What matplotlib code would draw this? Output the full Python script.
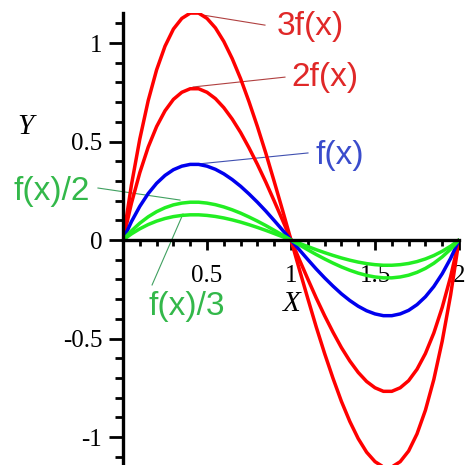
import numpy as np
import matplotlib
matplotlib.use("Agg")
import matplotlib.pyplot as plt
from matplotlib.ticker import MultipleLocator, FixedLocator, FixedFormatter

# f(x), step 0.05 from 0 to 2
x_vals = [0.00, 0.05, 0.10, 0.15, 0.20, 0.25, 0.30, 0.35, 0.40, 0.45,
          0.50, 0.55, 0.60, 0.65, 0.70, 0.75, 0.80, 0.85, 0.90, 0.95,
          1.00, 1.05, 1.10, 1.15, 1.20, 1.25, 1.30, 1.35, 1.40, 1.45,
          1.50, 1.55, 1.60, 1.65, 1.70, 1.75, 1.80, 1.85, 1.90, 1.95, 2.00]
f_vals = [0.000, 0.093, 0.171, 0.236, 0.288, 0.328, 0.357, 0.375, 0.384, 0.384,
          0.375, 0.359, 0.336, 0.307, 0.273, 0.234, 0.192, 0.147, 0.099, 0.050,
          0.000, -0.050, -0.099, -0.147, -0.192, -0.234, -0.273, -0.307, -0.336, -0.359,
          -0.375, -0.384, -0.384, -0.375, -0.357, -0.328, -0.288, -0.236, -0.171, -0.093, 0.000]

# scale factors of the five curves and their labels
factors = [3, 2, 1, 1/2, 1/3]
names = ["3f(x)", "2f(x)", "f(x)", "f(x)/2", "f(x)/3"]

xtick_vals = [0.5, 1, 1.5, 2]
xtick_labels = ["0.5", "1", "1.5", "2"]
ytick_vals = [-1, -0.5, 0, 0.5, 1]
ytick_labels = ["-1", "-0.5", "0", "0.5", "1"]

curve_colors = ["#ff0000", "#ff0000", "#0000ee", "#22ee22", "#22ee22"]
text_colors = ["#e02828", "#e02828", "#3a4ccc", "#33b84a", "#33b84a"]
lead_colors = ["#b04040", "#b04040", "#4050b0", "#40a060", "#40a060"]
# label centre and leader line (start, end), in data units
text_pos = [(1.113, 1.086), (1.202, 0.827), (1.292, 0.431), (-0.423, 0.244), (0.381, -0.335)]
leaders = [((0.476, 1.142), (0.845, 1.091)),
           ((0.417, 0.777), (0.964, 0.827)),
           ((0.446, 0.386), (1.101, 0.442)),
           ((0.339, 0.203), (-0.149, 0.264)),
           ((0.357, 0.132), (0.173, -0.228))]

fig = plt.figure(figsize=(4.67, 4.65), dpi=100)
ax = fig.add_axes([0.2634, 0.0, 0.7195, 0.9731])

x = np.array(x_vals)
f = np.array(f_vals)
for k, c in zip(factors, curve_colors):
    ax.plot(x, k * f, color=c, lw=2.5, solid_capstyle="round", zorder=3)

for name, tc, lc, pos, (p0, p1) in zip(names, text_colors, lead_colors, text_pos, leaders):
    ax.plot([p0[0], p1[0]], [p0[1], p1[1]], color=lc, lw=0.8, clip_on=False, zorder=2)
    ax.text(pos[0], pos[1], name, color=tc, fontsize=24, family="Liberation Sans",
            ha="center", va="center", clip_on=False)

ax.set_xlim(0, 2)
ax.set_ylim(-1.142, 1.155)

for s in ["top", "right"]:
    ax.spines[s].set_visible(False)
ax.spines["left"].set_position(("data", 0))
ax.spines["bottom"].set_position(("data", 0))
ax.spines["left"].set_linewidth(2.4)
ax.spines["bottom"].set_linewidth(2.4)
ax.spines["bottom"].set_zorder(4)
ax.spines["left"].set_zorder(4)

ax.xaxis.set_major_locator(FixedLocator(xtick_vals))
ax.xaxis.set_major_formatter(FixedFormatter(xtick_labels))
ax.yaxis.set_major_locator(FixedLocator(ytick_vals))
ax.yaxis.set_major_formatter(FixedFormatter(ytick_labels))
ax.xaxis.set_minor_locator(MultipleLocator(0.1))
ax.yaxis.set_minor_locator(MultipleLocator(0.1))

ax.tick_params(axis="x", which="major", direction="out", length=7, width=2, pad=11)
ax.tick_params(axis="x", which="minor", direction="out", length=4, width=2)
ax.tick_params(axis="y", which="major", direction="out", length=10, width=2, pad=5)
ax.tick_params(axis="y", which="minor", direction="out", length=6, width=2)
for lab in ax.get_xticklabels() + ax.get_yticklabels():
    lab.set_family("Liberation Serif")
    lab.set_fontsize(18)

ax.text(1.006, -0.325, "X", fontsize=21, family="Liberation Serif", style="italic",
        ha="center", va="center", clip_on=False)
ax.text(-0.583, 0.574, "Y", fontsize=21, family="Liberation Serif", style="italic",
        ha="center", va="center", clip_on=False)

fig.savefig("out.png", dpi=100)
